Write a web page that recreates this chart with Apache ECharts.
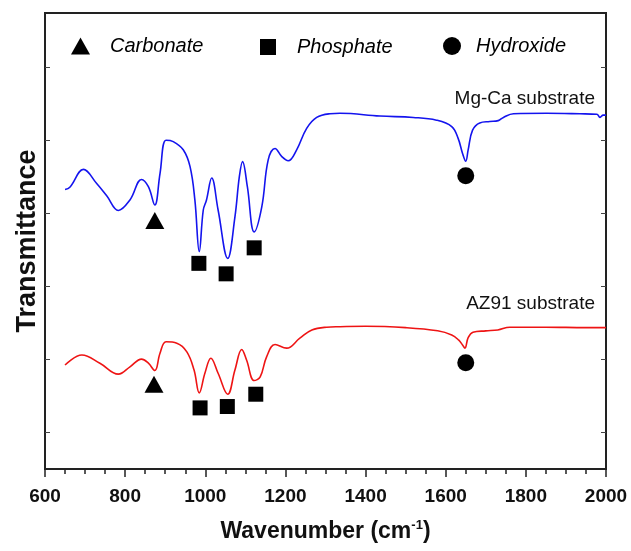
<!DOCTYPE html>
<html>
<head>
<meta charset="utf-8">
<script src="https://cdn.jsdelivr.net/npm/echarts@6/dist/echarts.min.js"></script>
<style>
  html, body { margin: 0; padding: 0; background: #fff; }
  #main { width: 631px; height: 551px; }
</style>
</head>
<body>
<div id="main"></div>
<script>
// spectra (transmittance in arbitrary units)
var waveMgCa = [650, 662, 696, 729, 754, 783, 812, 841, 858, 874, 887, 902, 920, 945, 962, 974, 985, 995, 1003, 1016, 1032, 1056, 1074, 1085, 1093, 1105, 1122, 1141, 1157, 1174, 1191, 1207, 1228, 1253, 1278, 1311, 1336, 1436, 1519, 1577, 1615, 1631, 1642, 1650, 1656, 1667, 1685, 1710, 1731, 1744, 1769, 1852, 1935, 1977, 1985, 1993, 2000];
var transMgCa = [61.3, 61.8, 65.7, 62.6, 59.9, 56.7, 59.0, 63.5, 61.9, 57.9, 64.8, 72.1, 71.8, 70.0, 66.3, 59.0, 47.7, 56.8, 59.0, 63.8, 56.8, 46.2, 55.3, 64.1, 67.4, 61.9, 52.0, 57.5, 67.8, 70.3, 68.5, 67.6, 70.0, 74.7, 77.1, 77.9, 78.0, 77.4, 77.1, 76.5, 75.1, 72.5, 69.2, 67.5, 70.0, 74.3, 75.9, 76.2, 76.4, 77.1, 77.9, 78.0, 77.9, 77.8, 77.1, 77.6, 77.6];

var waveAZ91 = [650, 692, 737, 783, 812, 841, 858, 874, 887, 902, 929, 954, 972, 985, 999, 1014, 1032, 1056, 1074, 1091, 1103, 1122, 1137, 1153, 1174, 1203, 1236, 1266, 1303, 1336, 1400, 1500, 1580, 1615, 1632, 1642, 1648, 1656, 1668, 1700, 1730, 1760, 1850, 1950, 2000];
var transAZ91 = [22.8, 25.0, 23.2, 20.8, 22.4, 24.1, 23.2, 21.6, 25.4, 27.9, 27.6, 25.7, 21.7, 16.7, 21.0, 24.3, 21.0, 16.4, 21.7, 26.2, 23.9, 19.4, 20.2, 24.6, 27.3, 26.5, 28.7, 30.5, 31.1, 31.2, 31.3, 31.0, 30.3, 29.4, 28.3, 27.2, 26.5, 28.8, 30.0, 30.3, 30.5, 31.1, 31.1, 31.0, 31.0];

// band markers [wavenumber, position]
var carbonatePts = [[874, 54.5], [872, 18.6]];
var phosphatePts = [[984, 45.1], [1052, 42.8], [1122, 48.5], [987, 13.4], [1055, 13.7], [1126, 16.4]];
var hydroxidePts = [[1650, 64.3], [1650, 23.3]];

var yTicks = [8, 24, 40, 56, 72, 88];

function zip(xs, ys) {
    var out = [];
    for (var i = 0; i < xs.length; i++) out.push([xs[i], ys[i]]);
    return out;
}

var myChart = echarts.init(document.getElementById('main'));
var font = 'Arial, "Liberation Sans", sans-serif';
function legendText(pad) {
    return { fontSize: 20, fontStyle: 'italic', color: '#000', fontFamily: font, padding: [0, 0, 0, pad] };
}

var option = {
    backgroundColor: '#fff',
    animation: false,
    grid: { left: 45, right: 25, top: 13, bottom: 82, show: true, borderColor: '#222', borderWidth: 2 },
    title: [
        { text: 'Mg-Ca substrate', right: 31, top: 84, textStyle: { fontSize: 19, fontWeight: 'normal', color: '#111', fontFamily: font } },
        { text: 'AZ91 substrate', right: 31, top: 289, textStyle: { fontSize: 19, fontWeight: 'normal', color: '#111', fontFamily: font } }
    ],
    legend: [
        { data: ['Carbonate'], left: 71, top: 36, padding: 0, itemWidth: 19, itemHeight: 17, textStyle: legendText(15) },
        { data: ['Phosphate'], left: 260, top: 37, padding: 0, itemWidth: 16, itemHeight: 16, textStyle: legendText(16) },
        { data: ['Hydroxide'], left: 443, top: 36, padding: 0, itemWidth: 18, itemHeight: 18, textStyle: legendText(10) }
    ],
    xAxis: {
        type: 'value', min: 600, max: 2000, interval: 200,
        name: '{a|Wavenumber (cm}{s|-1}{a|)}',
        nameLocation: 'middle', nameGap: 50,
        nameTextStyle: {
            rich: {
                a: { fontSize: 23, fontWeight: 'bold', color: '#111', fontFamily: font },
                s: { fontSize: 13, fontWeight: 'bold', color: '#111', fontFamily: font, verticalAlign: 'top', padding: [0, 0, 12, 0] }
            }
        },
        axisLine: { lineStyle: { color: '#222', width: 2 } },
        axisTick: { length: 8, lineStyle: { color: '#222', width: 1.5 } },
        minorTick: { show: true, splitNumber: 4, length: 5, lineStyle: { color: '#222', width: 1.5 } },
        axisLabel: { fontSize: 19, fontWeight: 'bold', color: '#111', fontFamily: font, margin: 18,
            formatter: function (v) { return String(v); } },
        splitLine: { show: false }
    },
    yAxis: [
        {
            type: 'value', min: 0, max: 100,
            name: 'Transmittance', nameLocation: 'middle', nameGap: 4,
            nameTextStyle: { fontSize: 27, fontWeight: 'bold', color: '#111', fontFamily: font },
            axisLine: { show: true, lineStyle: { color: '#222', width: 2 } },
            axisTick: { show: true, inside: true, length: 5, customValues: yTicks, lineStyle: { color: '#444' } },
            axisLabel: { show: false },
            splitLine: { show: false }
        },
        {
            type: 'value', min: 0, max: 100, position: 'right',
            axisLine: { show: true, lineStyle: { color: '#222', width: 2 } },
            axisTick: { show: true, inside: true, length: 5, customValues: yTicks, lineStyle: { color: '#444' } },
            axisLabel: { show: false },
            splitLine: { show: false }
        }
    ],
    series: [
        {
            name: 'Mg-Ca substrate', type: 'line', data: zip(waveMgCa, transMgCa),
            smooth: 0.4, showSymbol: false, lineStyle: { color: '#1414ee', width: 1.6 }
        },
        {
            name: 'AZ91 substrate', type: 'line', data: zip(waveAZ91, transAZ91),
            smooth: 0.4, showSymbol: false, lineStyle: { color: '#ee1414', width: 1.6 }
        },
        {
            name: 'Carbonate', type: 'scatter', data: carbonatePts,
            symbol: 'triangle', symbolSize: [19, 17], itemStyle: { color: '#000', opacity: 1 }
        },
        {
            name: 'Phosphate', type: 'scatter', data: phosphatePts,
            symbol: 'rect', symbolSize: 15, itemStyle: { color: '#000', opacity: 1 }
        },
        {
            name: 'Hydroxide', type: 'scatter', data: hydroxidePts,
            symbol: 'circle', symbolSize: 17, itemStyle: { color: '#000', opacity: 1 }
        }
    ]
};
myChart.setOption(option);
</script>
</body>
</html>
